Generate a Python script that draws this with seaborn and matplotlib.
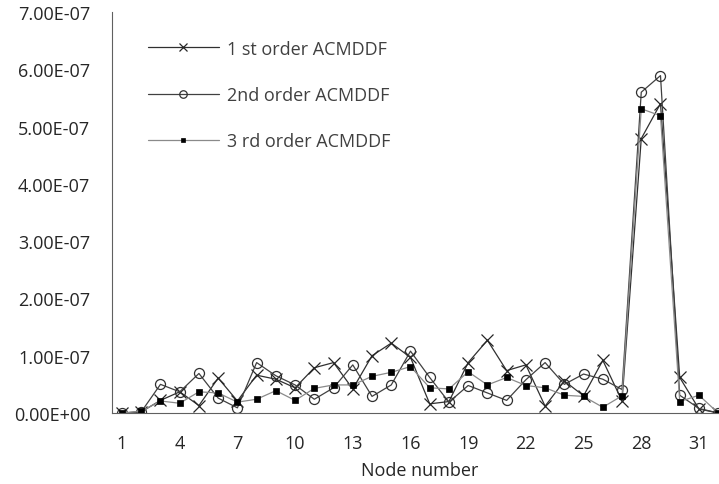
import numpy as np
import pandas as pd
import matplotlib
matplotlib.use("Agg")
import matplotlib.pyplot as plt
import seaborn as sns

# Node indices and the three ACMDDF orders
nodes = list(range(1, 33))
first_order = [0.00, 0.02, 0.22, 0.37, 0.13, 0.61, 0.21, 0.66, 0.59, 0.44,
               0.79, 0.88, 0.42, 1.00, 1.22, 0.97, 0.16, 0.20, 0.88, 1.27,
               0.74, 0.84, 0.12, 0.56, 0.30, 0.92, 0.21, 4.79, 5.40, 0.62,
               0.07, 0.00]
second_order = [0.00, 0.02, 0.50, 0.37, 0.69, 0.26, 0.09, 0.88, 0.65, 0.49,
                0.24, 0.44, 0.84, 0.29, 0.49, 1.08, 0.62, 0.19, 0.48, 0.35,
                0.22, 0.58, 0.88, 0.50, 0.68, 0.59, 0.41, 5.60, 5.89, 0.31,
                0.08, 0.00]
third_order = [0.00, 0.03, 0.21, 0.17, 0.37, 0.35, 0.19, 0.24, 0.39, 0.22,
               0.43, 0.49, 0.49, 0.64, 0.71, 0.81, 0.44, 0.42, 0.72, 0.49,
               0.62, 0.48, 0.44, 0.31, 0.29, 0.10, 0.30, 5.31, 5.19, 0.20,
               0.31, 0.00]
series_labels = ["1 st order ACMDDF", "2nd order ACMDDF", "3 rd order ACMDDF"]
x_tick_labels = [1, 4, 7, 10, 13, 16, 19, 22, 25, 28, 31]
y_ticks = [i * 1e-7 for i in range(8)]
scale = 1e-7

df = pd.DataFrame({
    "node": nodes,
    "first": np.array(first_order) * scale,
    "second": np.array(second_order) * scale,
    "third": np.array(third_order) * scale,
})

sns.set_style("white")
plt.rcParams["font.family"] = ["Open Sans", "DejaVu Sans"]

FS = 13
TXT = "#262626"
W, H = 719, 485
fig = plt.figure(figsize=(W / 100, H / 100), dpi=100)
# axes run a little past the right edge of the figure
x0, x1, y0, y1 = 112.4, 727.8, 414, 13
ax = fig.add_axes([x0 / W, (H - y0) / H, (x1 - x0) / W, (y0 - y1) / H])

sns.lineplot(data=df, x="node", y="first", ax=ax, color="#303030", lw=0.9,
             marker="x", markersize=8.6, markeredgewidth=0.9,
             markeredgecolor="#262626", label=series_labels[0])
sns.lineplot(data=df, x="node", y="second", ax=ax, color="#404040", lw=0.9,
             marker="o", markersize=7.2, markerfacecolor="none",
             markeredgewidth=0.9, markeredgecolor="#303030",
             label=series_labels[1])
sns.lineplot(data=df, x="node", y="third", ax=ax, color="#8a8a8a", lw=0.9,
             marker="s", markersize=4.8, markerfacecolor="black",
             markeredgecolor="black", markeredgewidth=0.5,
             label=series_labels[2])

ax.set_xlim(0.5, 32.5)
ax.set_ylim(0, 7e-7)

ax.set_xticks(np.arange(0.5, 33, 2))
ax.set_xticklabels([])
ax.set_xticks(x_tick_labels, minor=True)
ax.set_xticklabels([str(v) for v in x_tick_labels], minor=True)
ax.tick_params(axis="x", which="major", direction="in", length=4.5,
               width=0.8, color="#606060")
ax.tick_params(axis="x", which="minor", length=0, pad=15, labelsize=FS,
               labelcolor=TXT)

ax.set_yticks(y_ticks)
ax.set_yticklabels([f"{v:.2E}" for v in y_ticks])
ax.tick_params(axis="y", direction="in", length=4.5, width=0.8,
               color="#606060", pad=16, labelsize=FS, labelcolor=TXT)

for side in ("top", "right"):
    ax.spines[side].set_visible(False)
for side in ("left", "bottom"):
    ax.spines[side].set_color("#606060")
    ax.spines[side].set_linewidth(0.8)

ax.set_xlabel("Node number", fontsize=FS, color=TXT, labelpad=6.5)
ax.set_ylabel("")

leg = ax.legend(loc="upper left", bbox_to_anchor=(132 / W, 1 - 24.5 / H),
                bbox_transform=fig.transFigure, frameon=False,
                fontsize=FS, handlelength=3.9, handletextpad=0.44,
                labelspacing=1.56, markerscale=0.75)
for t in leg.get_texts():
    t.set_color("#404040")

fig.savefig("out.png", dpi=100)
